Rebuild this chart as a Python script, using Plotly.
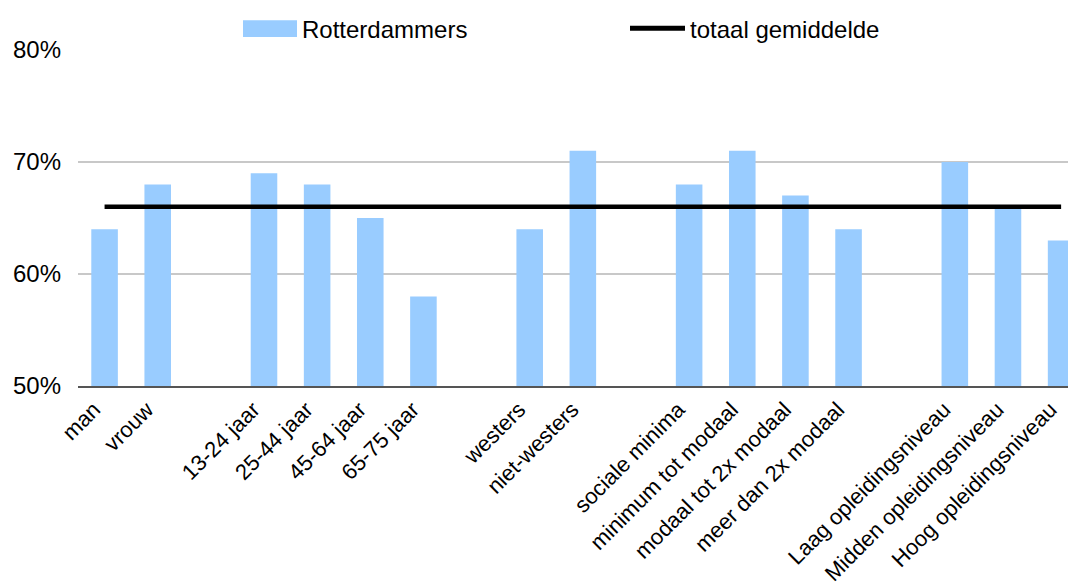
import plotly.graph_objects as go

# categorieen, lege strings zijn de witruimtes tussen de groepen
categories = ["man", "vrouw", "",
              "13-24 jaar", "25-44 jaar", "45-64 jaar", "65-75 jaar", "",
              "westers", "niet-westers", "",
              "sociale minima", "minimum tot modaal", "modaal tot 2x modaal", "meer dan 2x modaal", "",
              "Laag opleidingsniveau", "Midden opleidingsniveau", "Hoog opleidingsniveau"]
rotterdammers = [64, 68, None,
                 69, 68, 65, 58, None,
                 64, 71, None,
                 68, 71, 67, 64, None,
                 70, 66, 63]
totaal_gemiddelde = [66] * len(categories)
y_ticks = [50, 60, 70, 80]
y_ticklabels = ["50%", "60%", "70%", "80%"]

pos = list(range(len(categories)))
font = "Liberation Sans, Arial, sans-serif"

# de pagina heeft 8px body-marge, daarom alles 8px naar links/boven
W, H = 1068, 578
L, R, T, B = 70, 1068, 42, 380

fig = go.Figure()

fig.add_trace(go.Bar(
    x=pos, y=rotterdammers,
    marker=dict(color="#99ccff", line=dict(width=0)),
    width=0.5,
    name="Rotterdammers",
    showlegend=False
))

fig.add_trace(go.Scatter(
    x=pos, y=totaal_gemiddelde,
    mode="lines",
    line=dict(color="black", width=4.5),
    name="totaal gemiddelde",
    showlegend=False
))

# handmatige legenda (breed blok + lange lijn zoals in het origineel)
def px(x):
    return (x - 8 - L) / (R - L)
def py(y):
    return (B - (y - 8)) / (B - T)

fig.add_shape(type="rect", xref="paper", yref="paper",
              x0=px(243), x1=px(297), y0=py(37), y1=py(20),
              fillcolor="#99ccff", line=dict(width=0))
fig.add_shape(type="line", xref="paper", yref="paper",
              x0=px(630), x1=px(685), y0=py(28), y1=py(28),
              line=dict(color="black", width=5))
fig.add_annotation(text="Rotterdammers", xref="paper", yref="paper",
                   x=px(300), y=py(29), xanchor="left", yanchor="middle",
                   showarrow=False, font=dict(size=24, color="black", family=font))
fig.add_annotation(text="totaal gemiddelde", xref="paper", yref="paper",
                   x=px(688), y=py(29), xanchor="left", yanchor="middle",
                   showarrow=False, font=dict(size=24, color="black", family=font))

fig.update_layout(
    width=W, height=H,
    margin=dict(l=L, r=W - R, t=T, b=H - B, pad=0),
    plot_bgcolor="white",
    paper_bgcolor="white",
    font=dict(family=font, color="black"),
)

# labels staan in het origineel iets links van het midden van de balk
fig.update_xaxes(
    range=[-0.5, 18.28],
    tickmode="array",
    tickvals=[p - 0.2 for p, c in zip(pos, categories) if c],
    ticktext=[c for c in categories if c],
    tickangle=-45,
    tickfont=dict(size=22),
    showgrid=False,
    showline=True, linecolor="#555555", linewidth=2,
    ticks="",
    ticklabelstandoff=0,
)

fig.update_yaxes(
    range=[50, 80],
    tickmode="array",
    tickvals=y_ticks,
    ticktext=y_ticklabels,
    tickfont=dict(size=24),
    showgrid=True, gridcolor="#c8c8c8", gridwidth=1.5,
    zeroline=False,
    ticks="",
    ticklabelstandoff=16,
)

fig.write_html("out.html")
